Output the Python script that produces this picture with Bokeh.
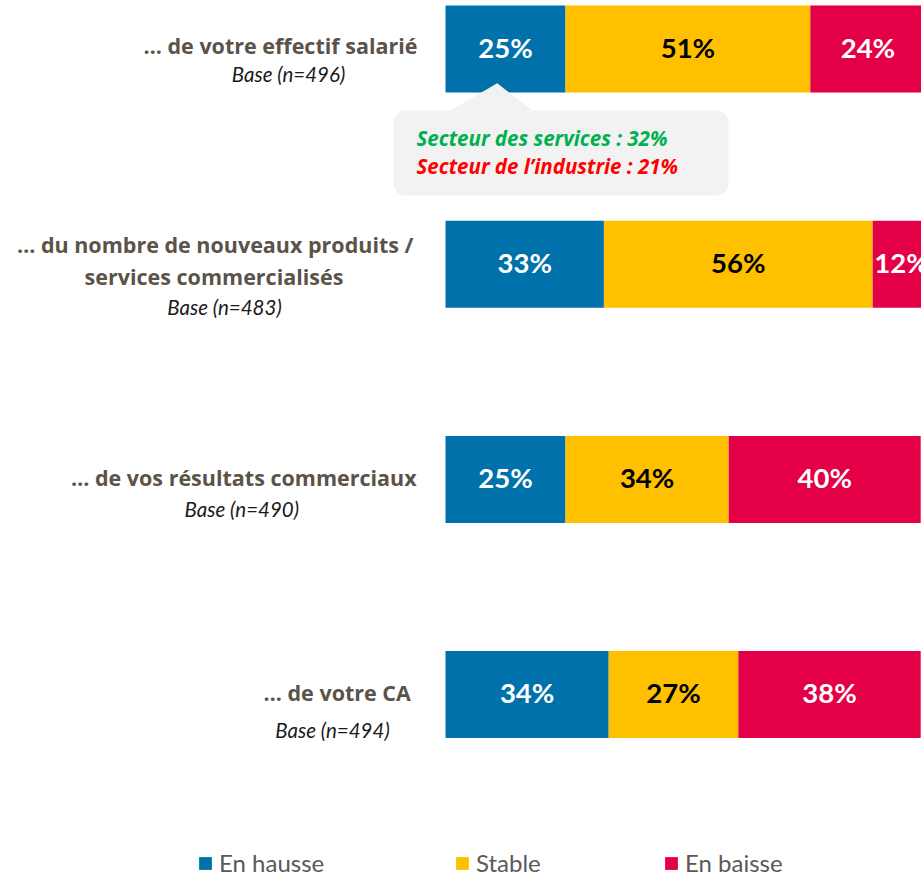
from bokeh.plotting import figure
from bokeh.models import Range1d, BoxAnnotation, Legend, LegendItem
from bokeh.core.properties import value
from bokeh.embed import file_html
from bokeh.resources import INLINE

# ---------------- data ----------------
categories = [
    ["… de votre effectif salarié"],
    ["… du nombre de nouveaux produits /", "services commercialisés"],
    ["… de vos résultats commerciaux"],
    ["… de votre CA"],
]
bases = ["Base (n=496)", "Base (n=483)", "Base (n=490)", "Base (n=494)"]
series_names = ["En hausse", "Stable", "En baisse"]
en_hausse = [25, 33, 25, 34]
stable = [51, 56, 34, 27]
en_baisse = [24, 12, 40, 38]
callout_lines = ["Secteur des services : 32%", "Secteur de l’industrie : 21%"]

# ---------------- layout / style ----------------
COLORS = ["#0071AB", "#FFC000", "#E40046"]
VAL_TEXT = ["white", "black", "white"]
LABEL_COLOR = "#5B5349"

PX_PER_PCT = 4.8
X0 = 445.0      # page x of 0 %
STEP = 215.2    # px between bars
Y0 = 48.5       # page y of first bar centre
W, H = 921, 876


def X(px):
    return (px - X0) / PX_PER_PCT


def Y(py):
    return (py - Y0) / STEP


p = figure(width=W, height=H,
           x_range=Range1d(X(0), X(W)),
           y_range=Range1d(Y(H), Y(0)),
           min_border=0, toolbar_location=None, output_backend="svg",
           x_axis_location=None, y_axis_location=None)
p.grid.visible = False
p.outline_line_color = None

idx = list(range(len(categories)))

# callout box (under the glyphs)
box = BoxAnnotation(left=X(393), right=X(728), top=Y(110), bottom=Y(195),
                    fill_color="#F2F2F2", fill_alpha=1.0, line_alpha=0,
                    border_radius=12, level="underlay")
p.add_layout(box)

# stacked bars
series = [en_hausse, stable, en_baisse]
lefts = [0] * len(idx)
renderers = []
for name, vals, col, tcol in zip(series_names, series, COLORS, VAL_TEXT):
    rights = [l + v for l, v in zip(lefts, vals)]
    r = p.hbar(y=idx, left=lefts, right=rights, height=87 / STEP,
               fill_color=col, line_color=None)
    renderers.append(r)
    mids = [(l + rr) / 2 for l, rr in zip(lefts, rights)]
    p.text(x=mids, y=idx, text=[f"{v}%" for v in vals],
           text_align="center", text_baseline="alphabetic", y_offset=-2,
           text_font=value("Lato"), text_font_style="bold",
           text_font_size="27.5px", text_color=tcol)
    lefts = rights

# callout pointer (drawn over the first bar)
p.patch(x=[X(450), X(496.7), X(531.7)], y=[Y(110), Y(82.7), Y(110)],
        fill_color="#F2F2F2", line_color=None)

p.text(x=[X(416)] * 2, y=[0, 0], y_offset=[88.5, 117], text=callout_lines,
       text_color=["#00B050", "#FF0000"], text_align="left",
       text_baseline="alphabetic", text_font=value("Open Sans"),
       text_font_style="bold italic", text_font_size="20.5px")

# category labels
main_cx = [[280], [214.7, 213.5], [243.3], [336.7]]
main_dy = [[-4], [-19.5, 12.5], [-2], [-2]]
base_cx = [288, 224, 241.3, 332]
base_dy = [24.5, 42.5, 30, 35.5]

mx, my, mo, mt = [], [], [], []
for i, lines in enumerate(categories):
    for line, cx, dy in zip(lines, main_cx[i], main_dy[i]):
        mx.append(X(cx)); my.append(i); mo.append(dy); mt.append(line)
p.text(x=mx, y=my, y_offset=mo, text=mt, text_align="center",
       text_baseline="alphabetic", text_font=value("Open Sans"),
       text_font_style="bold", text_font_size="21.5px", text_color=LABEL_COLOR)

p.text(x=[X(c) for c in base_cx], y=idx, y_offset=base_dy, text=bases,
       text_align="center", text_baseline="alphabetic", text_font=value("Lato"),
       text_font_style="italic", text_font_size="20.5px", text_color="#1A1A1A")

# legends
legend_x = [197, 454, 663]
for name, r, lx in zip(series_names, renderers, legend_x):
    lg = Legend(items=[LegendItem(label=name, renderers=[r])],
                location=(lx, H - 877),
                padding=0, margin=0, spacing=0,
                glyph_width=16, glyph_height=16, label_height=16,
                label_standoff=6, border_line_alpha=0,
                background_fill_alpha=0,
                label_text_font="Lato", label_text_font_size="24px",
                label_text_color="#595959")
    p.add_layout(lg)

open("out.html", "w").write(file_html(p, INLINE))
